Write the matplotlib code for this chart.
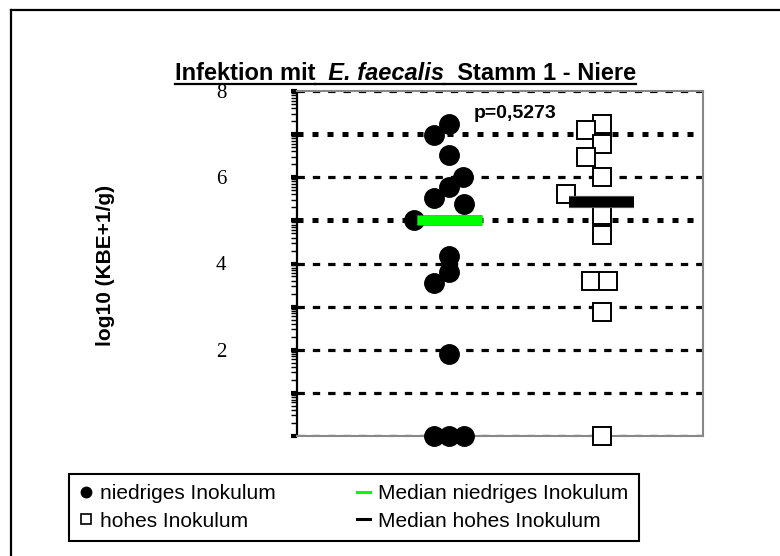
import numpy as np
import matplotlib
matplotlib.use("Agg")
import matplotlib.pyplot as plt
from matplotlib.lines import Line2D
from matplotlib.ticker import FixedLocator, FixedFormatter
import matplotlib.patheffects as pe

# log10 (KBE+1/g) values
low_vals = [7.23, 6.98, 6.52, 6.01, 5.78, 5.53, 5.38, 5.01, 4.18, 3.80, 3.54, 1.90, 0, 0, 0]
low_jitter = [0, -0.15, 0, 0.14, 0, -0.15, 0.15, -0.345, 0, 0, -0.15, 0, -0.15, 0, 0.15]
high_vals = [7.23, 7.10, 6.77, 6.46, 6.01, 5.61, 5.12, 4.66, 3.59, 3.59, 2.87, 0]
high_jitter = [0, -0.155, 0, -0.155, 0, -0.35, 0, 0, -0.105, 0.065, 0, 0]
medians = [5.01, 5.42]
group_x = [1.5, 3.0]
p_text = "p=0,5273"
ytick_vals = [2, 4, 6, 8]
legend_labels = ["niedriges Inokulum", "hohes Inokulum",
                 "Median niedriges Inokulum", "Median hohes Inokulum"]

plt.rcParams['font.family'] = ['Liberation Sans', 'DejaVu Sans']

W, H = 780, 556
fig = plt.figure(figsize=(7.8, 5.56), dpi=100)
ax = fig.add_axes([297 / W, 1 - 436 / H, 406 / W, 345 / H])
ax.set_xlim(0, 4)
ax.set_ylim(0, 8)

# horizontal grid lines
for yv in range(0, 9):
    if yv in (5, 7):
        ax.axhline(yv, color='black', lw=3.6, dashes=(1.2, 1.8), zorder=1)
    else:
        ax.axhline(yv, color='black', lw=2.3, dashes=(2.3, 2.5), zorder=1)

# points
ax.plot([group_x[0] + j for j in low_jitter], low_vals, 'o', color='black',
        ms=14, ls='none', clip_on=False, zorder=3)
ax.plot([group_x[1] + j for j in high_jitter], high_vals, 's', mfc='white',
        mec='black', mew=1.4, ms=13, ls='none', clip_on=False, zorder=3)

# medians
ax.plot([group_x[0] - 0.32, group_x[0] + 0.32], [medians[0]] * 2, color='#00ff00',
        lw=6.5, solid_capstyle='butt', zorder=4,
        path_effects=[pe.Stroke(linewidth=7.6, foreground='#1fa81f'), pe.Normal()])
ax.plot([group_x[1] - 0.32, group_x[1] + 0.32], [medians[1]] * 2, color='black',
        lw=7.5, solid_capstyle='butt', zorder=4,
        path_effects=[pe.Stroke(linewidth=8.8, foreground='#666666'), pe.Normal()])

ax.text(2.145, 7.48, p_text, ha='center', va='center', fontsize=14,
        fontweight='bold')

# spines and ticks
for s in ('top', 'right', 'bottom'):
    ax.spines[s].set_color('#888888')
    ax.spines[s].set_linewidth(1.5)
ax.spines['left'].set_color('black')
ax.spines['left'].set_linewidth(1.6)
ax.set_xticks([])
major = list(range(0, 9))
ax.yaxis.set_major_locator(FixedLocator(major))
ax.yaxis.set_major_formatter(FixedFormatter([str(v) if v in ytick_vals else '' for v in major]))
minor = [n + np.log10(k) for n in range(0, 8) for k in range(2, 10)]
ax.yaxis.set_minor_locator(FixedLocator(minor))
ax.tick_params(axis='y', which='major', direction='out', length=4, width=3, pad=47,
               labelsize=15, labelfontfamily='Liberation Serif')
ax.tick_params(axis='y', which='minor', direction='out', length=4, width=1)

fig.text(106 / W, 1 - 265 / H, "log10 (KBE+1/g)", rotation=90, ha='center',
         va='center', fontsize=15, fontweight='bold')

# title with italic species name and underline
renderer = fig.canvas.get_renderer()
parts = [("Infektion mit", 'normal'), ("  E. faecalis", 'italic'), ("  Stamm 1 - Niere", 'normal')]
fs_title = 17
texts = []
for s, st in parts:
    t = fig.text(0, 1 - 80 / H, s, fontsize=fs_title, fontweight='bold', style=st,
                 va='baseline', ha='left')
    texts.append(t)
widths = [t.get_window_extent(renderer=renderer).width for t in texts]
total = sum(widths)
x0 = 405.5 - total / 2
for t, w in zip(texts, widths):
    t.set_x(x0 / W)
    fig.add_artist(Line2D([x0 / W, (x0 + w) / W], [1 - 84 / H] * 2, color='black',
                          lw=1.6, transform=fig.transFigure))
    x0 += w

# legend
handles = [
    Line2D([], [], marker='o', ls='none', color='black', ms=7.5),
    Line2D([], [], marker='s', ls='none', mfc='white', mec='black', mew=1.2, ms=7.5),
    Line2D([], [], color='#00ff00', lw=2.2),
    Line2D([], [], color='black', lw=2.2),
]
leg = fig.legend(handles, legend_labels, ncol=2, loc='upper left',
                 bbox_to_anchor=(69 / W, 1 - 474 / H), borderaxespad=0, fontsize=15,
                 frameon=True, fancybox=False, framealpha=1, edgecolor='black',
                 handlelength=0.6, handletextpad=0.4, columnspacing=3.9,
                 borderpad=0.5, labelspacing=0.4)
leg.get_frame().set_linewidth(1.5)

# outer frame
fig.add_artist(Line2D([11 / W, 11 / W], [0, 1 - 10 / H], color='black', lw=1.6,
                      transform=fig.transFigure))
fig.add_artist(Line2D([11 / W, 1], [1 - 10 / H, 1 - 10 / H], color='black', lw=1.6,
                      transform=fig.transFigure))

fig.savefig("out.png", dpi=100)
